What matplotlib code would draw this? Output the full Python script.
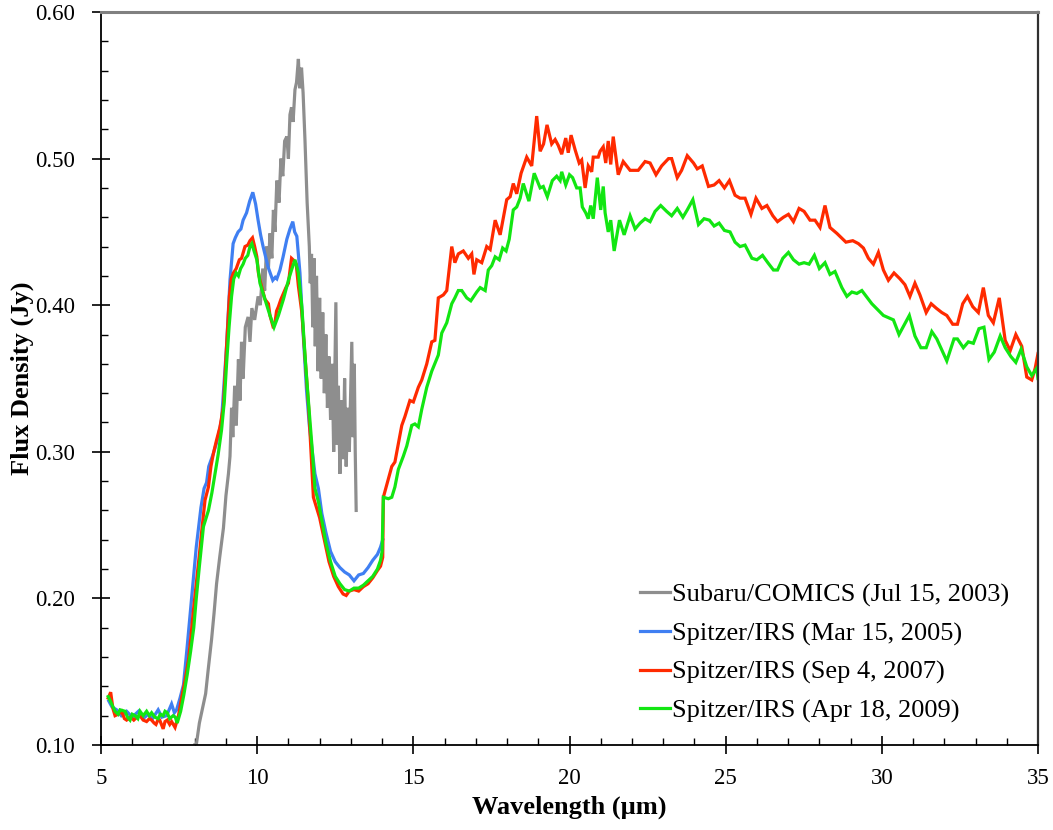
import matplotlib
matplotlib.use('Agg')
import matplotlib.pyplot as plt
from matplotlib.ticker import MultipleLocator, FormatStrFormatter

# --------------------------------------------------------------
# Spectra (wavelength in um, flux in Jy)
# --------------------------------------------------------------
comics_wl = [8.00, 8.05, 8.15, 8.28, 8.35, 8.43, 8.54, 8.62, 8.70, 8.80, 8.92, 9.00, 9.08, 9.13,
             9.18, 9.22, 9.28, 9.33, 9.40, 9.45, 9.50, 9.55, 9.62, 9.71, 9.77, 9.83, 9.92, 10.03,
             10.10, 10.18, 10.24, 10.30, 10.36, 10.41, 10.47, 10.52, 10.57, 10.63, 10.70, 10.76,
             10.82, 10.88, 10.95, 11.00, 11.05, 11.10, 11.15, 11.21, 11.26, 11.32, 11.36, 11.42,
             11.47, 11.53, 11.60, 11.67, 11.70, 11.74, 11.78, 11.82, 11.86, 11.90, 11.95, 12.00,
             12.05, 12.10, 12.15, 12.20, 12.25, 12.30, 12.35, 12.40, 12.45, 12.52, 12.56, 12.60,
             12.65, 12.70, 12.75, 12.80, 12.85, 12.90, 12.95, 13.03, 13.07, 13.11, 13.14, 13.17]
comics_flux = [0.100, 0.100, 0.115, 0.128, 0.135, 0.151, 0.172, 0.190, 0.210, 0.228, 0.248, 0.270,
               0.285, 0.297, 0.330, 0.310, 0.345, 0.318, 0.363, 0.335, 0.375, 0.350, 0.385, 0.392,
               0.375, 0.398, 0.390, 0.406, 0.400, 0.425, 0.410, 0.440, 0.425, 0.449, 0.432, 0.465,
               0.450, 0.485, 0.470, 0.500, 0.488, 0.512, 0.515, 0.500, 0.530, 0.535, 0.525, 0.547,
               0.552, 0.568, 0.548, 0.562, 0.545, 0.513, 0.470, 0.440, 0.415, 0.435, 0.385, 0.432,
               0.372, 0.420, 0.355, 0.405, 0.350, 0.395, 0.340, 0.380, 0.330, 0.365, 0.322, 0.360,
               0.300, 0.402, 0.305, 0.345, 0.285, 0.335, 0.295, 0.350, 0.290, 0.330, 0.300, 0.375,
               0.310, 0.360, 0.300, 0.260]

irs2005_wl = [5.25, 5.35, 5.50, 5.65, 5.82, 6.00, 6.20, 6.35, 6.51, 6.65, 6.83, 6.95, 7.10, 7.26,
              7.35, 7.42, 7.53, 7.64, 7.75, 7.90, 8.05, 8.20, 8.30, 8.38, 8.45, 8.60, 8.75, 8.86,
              8.95, 9.02, 9.13, 9.23, 9.30, 9.39, 9.48, 9.55, 9.66, 9.76, 9.86, 9.95, 10.03, 10.11,
              10.19, 10.27, 10.35, 10.50, 10.58, 10.63, 10.73, 10.83, 10.95, 11.05, 11.14, 11.20,
              11.27, 11.37, 11.48, 11.58, 11.67, 11.75, 11.85, 11.96, 12.07, 12.20, 12.35, 12.50,
              12.65, 12.80, 12.95, 13.10, 13.25, 13.40, 13.55, 13.70, 13.85, 13.95, 14.02]
irs2005_flux = [0.130, 0.126, 0.124, 0.120, 0.123, 0.119, 0.123, 0.118, 0.121, 0.118, 0.124, 0.119,
                0.120, 0.128, 0.122, 0.124, 0.132, 0.141, 0.165, 0.200, 0.235, 0.262, 0.275, 0.279,
                0.290, 0.299, 0.310, 0.322, 0.350, 0.372, 0.417, 0.442, 0.446, 0.450, 0.452, 0.458,
                0.463, 0.471, 0.477, 0.469, 0.458, 0.448, 0.440, 0.433, 0.426, 0.417, 0.419, 0.418,
                0.424, 0.433, 0.445, 0.452, 0.457, 0.450, 0.447, 0.422, 0.378, 0.342, 0.318, 0.303,
                0.285, 0.275, 0.258, 0.245, 0.232, 0.225, 0.221, 0.218, 0.216, 0.212, 0.216, 0.217,
                0.221, 0.226, 0.230, 0.235, 0.240]

irs2007_wl = [5.23, 5.31, 5.38, 5.45, 5.55, 5.66, 5.75, 5.82, 5.95, 6.05, 6.15, 6.25, 6.35, 6.46,
              6.55, 6.62, 6.70, 6.76, 6.82, 6.88, 6.99, 7.05, 7.12, 7.20, 7.26, 7.37, 7.48, 7.58,
              7.69, 7.80, 7.87, 7.95, 8.05, 8.15, 8.22, 8.33, 8.44, 8.52, 8.60, 8.70, 8.81, 8.92,
              9.02, 9.11, 9.17, 9.24, 9.33, 9.43, 9.50, 9.61, 9.70, 9.77, 9.85, 9.92, 9.99, 10.04,
              10.09, 10.20, 10.25, 10.36, 10.41, 10.50, 10.57, 10.62, 10.68, 10.76, 10.84, 10.92,
              11.00, 11.10, 11.20, 11.25, 11.32, 11.43, 11.55, 11.65, 11.80, 11.90, 12.00, 12.15,
              12.30, 12.45, 12.60, 12.75, 12.85, 12.95, 13.10, 13.25, 13.40, 13.55, 13.70, 13.85,
              13.95, 14.02, 14.04, 14.31, 14.41, 14.63, 14.73, 14.89, 15.00, 15.16, 15.27, 15.43,
              15.59, 15.69, 15.80, 15.96, 16.07, 16.23, 16.33, 16.44, 16.60, 16.76, 16.87, 16.94,
              17.03, 17.19, 17.35, 17.46, 17.62, 17.78, 17.99, 18.10, 18.20, 18.31, 18.45, 18.63,
              18.79, 18.95, 19.06, 19.17, 19.28, 19.43, 19.54, 19.64, 19.75, 19.88, 19.96, 20.05,
              20.18, 20.31, 20.39, 20.50, 20.60, 20.71, 20.76, 20.92, 20.98, 21.08, 21.16, 21.24,
              21.32, 21.40, 21.56, 21.72, 21.94, 22.20, 22.42, 22.58, 22.77, 22.95, 23.17, 23.27,
              23.45, 23.59, 23.77, 23.97, 24.09, 24.25, 24.45, 24.63, 24.79, 24.96, 25.12, 25.30,
              25.46, 25.62, 25.81, 25.97, 26.16, 26.32, 26.51, 26.66, 26.85, 27.01, 27.17, 27.35,
              27.51, 27.70, 27.86, 28.02, 28.18, 28.34, 28.56, 28.85, 29.07, 29.25, 29.41, 29.57,
              29.73, 29.89, 30.05, 30.21, 30.39, 30.58, 30.74, 30.90, 31.06, 31.22, 31.42, 31.58,
              31.74, 31.92, 32.08, 32.27, 32.42, 32.59, 32.74, 32.91, 33.09, 33.25, 33.41, 33.57,
              33.76, 33.95, 34.11, 34.29, 34.48, 34.64, 34.80, 34.91, 35.00]
irs2007_flux = [0.132, 0.136, 0.125, 0.120, 0.121, 0.123, 0.118, 0.117, 0.119, 0.117, 0.119, 0.120,
                0.117, 0.116, 0.118, 0.117, 0.115, 0.114, 0.117, 0.117, 0.111, 0.116, 0.117, 0.114,
                0.116, 0.112, 0.120, 0.132, 0.144, 0.158, 0.172, 0.190, 0.210, 0.230, 0.245, 0.267,
                0.276, 0.290, 0.299, 0.308, 0.317, 0.331, 0.372, 0.406, 0.418, 0.422, 0.425, 0.431,
                0.432, 0.440, 0.441, 0.444, 0.446, 0.440, 0.433, 0.422, 0.417, 0.408, 0.404, 0.401,
                0.393, 0.386, 0.388, 0.396, 0.399, 0.404, 0.408, 0.412, 0.415, 0.432, 0.430, 0.428,
                0.413, 0.395, 0.360, 0.330, 0.269, 0.262, 0.255, 0.240, 0.225, 0.215, 0.208, 0.203,
                0.202, 0.205, 0.206, 0.205, 0.208, 0.210, 0.214, 0.219, 0.222, 0.228, 0.269, 0.290,
                0.293, 0.318, 0.324, 0.335, 0.334, 0.344, 0.349, 0.360, 0.375, 0.376, 0.405, 0.407,
                0.410, 0.440, 0.429, 0.435, 0.437, 0.432, 0.435, 0.421, 0.431, 0.429, 0.440, 0.438,
                0.458, 0.448, 0.472, 0.474, 0.483, 0.476, 0.490, 0.501, 0.495, 0.529, 0.505, 0.510,
                0.523, 0.510, 0.513, 0.509, 0.503, 0.514, 0.504, 0.516, 0.506, 0.497, 0.499, 0.480,
                0.495, 0.491, 0.501, 0.501, 0.505, 0.508, 0.497, 0.512, 0.496, 0.515, 0.489, 0.498,
                0.492, 0.492, 0.498, 0.497, 0.489, 0.495, 0.500, 0.500, 0.487, 0.492, 0.502, 0.497,
                0.493, 0.495, 0.481, 0.482, 0.485, 0.480, 0.485, 0.475, 0.473, 0.473, 0.462, 0.473,
                0.466, 0.468, 0.461, 0.457, 0.460, 0.462, 0.457, 0.466, 0.464, 0.458, 0.458, 0.453,
                0.468, 0.453, 0.449, 0.443, 0.444, 0.442, 0.439, 0.432, 0.428, 0.436, 0.424, 0.417,
                0.422, 0.418, 0.414, 0.406, 0.415, 0.407, 0.395, 0.401, 0.398, 0.395, 0.393, 0.387,
                0.387, 0.401, 0.406, 0.399, 0.395, 0.412, 0.393, 0.388, 0.405, 0.376, 0.369, 0.380,
                0.372, 0.351, 0.349, 0.357, 0.367]

irs2009_wl = [5.23, 5.30, 5.34, 5.45, 5.55, 5.61, 5.77, 5.85, 5.93, 6.00, 6.09, 6.18, 6.25, 6.35,
              6.46, 6.55, 6.62, 6.72, 6.83, 6.90, 6.99, 7.05, 7.12, 7.20, 7.31, 7.38, 7.44, 7.55,
              7.65, 7.76, 7.87, 7.97, 8.05, 8.15, 8.28, 8.44, 8.55, 8.65, 8.75, 8.86, 8.95, 9.02,
              9.10, 9.18, 9.25, 9.33, 9.40, 9.47, 9.55, 9.62, 9.70, 9.77, 9.83, 9.90, 9.99, 10.09,
              10.25, 10.41, 10.54, 10.68, 10.84, 11.00, 11.10, 11.21, 11.32, 11.43, 11.55, 11.65,
              11.75, 11.85, 11.96, 12.07, 12.20, 12.35, 12.50, 12.65, 12.80, 12.95, 13.10, 13.25,
              13.40, 13.55, 13.70, 13.85, 13.95, 14.00, 14.04, 14.20, 14.31, 14.41, 14.52, 14.68,
              14.79, 14.95, 15.05, 15.16, 15.27, 15.43, 15.59, 15.80, 15.91, 16.07, 16.23, 16.33,
              16.44, 16.55, 16.71, 16.84, 17.03, 17.14, 17.30, 17.40, 17.51, 17.62, 17.75, 17.86,
              17.97, 18.07, 18.20, 18.31, 18.42, 18.52, 18.70, 18.87, 19.06, 19.16, 19.29, 19.45,
              19.59, 19.70, 19.75, 19.88, 20.00, 20.10, 20.23, 20.34, 20.41, 20.52, 20.60, 20.68,
              20.76, 20.89, 21.00, 21.08, 21.14, 21.24, 21.32, 21.43, 21.60, 21.75, 21.94, 22.10,
              22.26, 22.42, 22.58, 22.74, 22.92, 23.11, 23.27, 23.45, 23.63, 23.77, 23.95, 24.13,
              24.31, 24.48, 24.63, 24.79, 24.96, 25.14, 25.30, 25.46, 25.62, 25.84, 26.00, 26.18,
              26.35, 26.53, 26.66, 26.83, 27.01, 27.17, 27.35, 27.51, 27.67, 27.84, 28.00, 28.18,
              28.34, 28.50, 28.72, 28.88, 29.04, 29.20, 29.36, 29.68, 30.05, 30.37, 30.55, 30.88,
              31.06, 31.25, 31.42, 31.60, 31.76, 32.08, 32.31, 32.42, 32.61, 32.77, 32.93, 33.11,
              33.27, 33.43, 33.60, 33.79, 33.95, 34.13, 34.29, 34.46, 34.64, 34.80, 34.96, 35.00]
irs2009_flux = [0.133, 0.130, 0.128, 0.123, 0.121, 0.124, 0.123, 0.119, 0.117, 0.121, 0.120, 0.118,
                0.123, 0.120, 0.123, 0.120, 0.122, 0.119, 0.118, 0.121, 0.120, 0.123, 0.122, 0.118,
                0.120, 0.119, 0.115, 0.123, 0.134, 0.148, 0.164, 0.180, 0.200, 0.222, 0.249, 0.260,
                0.272, 0.285, 0.298, 0.315, 0.335, 0.360, 0.385, 0.406, 0.418, 0.422, 0.420, 0.425,
                0.428, 0.432, 0.434, 0.440, 0.442, 0.437, 0.431, 0.415, 0.404, 0.393, 0.385, 0.393,
                0.404, 0.417, 0.424, 0.431, 0.422, 0.399, 0.360, 0.332, 0.305, 0.275, 0.266, 0.253,
                0.238, 0.225, 0.215, 0.210, 0.206, 0.205, 0.207, 0.207, 0.209, 0.212, 0.215, 0.220,
                0.226, 0.232, 0.269, 0.268, 0.269, 0.276, 0.288, 0.297, 0.304, 0.318, 0.319, 0.317,
                0.329, 0.344, 0.355, 0.366, 0.381, 0.388, 0.401, 0.405, 0.410, 0.410, 0.405, 0.403,
                0.409, 0.412, 0.410, 0.424, 0.427, 0.433, 0.431, 0.439, 0.437, 0.445, 0.465, 0.467,
                0.473, 0.483, 0.471, 0.490, 0.480, 0.481, 0.474, 0.485, 0.488, 0.485, 0.491, 0.482,
                0.489, 0.487, 0.480, 0.480, 0.467, 0.463, 0.459, 0.468, 0.459, 0.487, 0.465, 0.481,
                0.463, 0.450, 0.458, 0.437, 0.458, 0.448, 0.461, 0.452, 0.456, 0.459, 0.457, 0.464,
                0.468, 0.464, 0.461, 0.466, 0.460, 0.465, 0.472, 0.455, 0.459, 0.458, 0.454, 0.456,
                0.451, 0.450, 0.443, 0.440, 0.441, 0.432, 0.431, 0.434, 0.429, 0.424, 0.424, 0.432,
                0.436, 0.431, 0.428, 0.429, 0.428, 0.434, 0.425, 0.429, 0.421, 0.423, 0.412, 0.406,
                0.409, 0.408, 0.410, 0.401, 0.393, 0.390, 0.380, 0.393, 0.379, 0.371, 0.371, 0.382,
                0.377, 0.362, 0.377, 0.377, 0.371, 0.375, 0.374, 0.384, 0.385, 0.363, 0.368, 0.379,
                0.371, 0.365, 0.361, 0.370, 0.358, 0.352, 0.357, 0.350]

series_labels = ['Subaru/COMICS (Jul 15, 2003)', 'Spitzer/IRS (Mar 15, 2005)',
                 'Spitzer/IRS (Sep 4, 2007)', 'Spitzer/IRS (Apr 18, 2009)']
series_colors = ['#8e8e8e', '#3f7ff2', '#ff2a00', '#12e612']

plt.rcParams['font.family'] = ['Liberation Serif', 'DejaVu Serif']

# --------------------------------------------------------------
# Figure and axes laid out to match the reference pixel box
# --------------------------------------------------------------
fig = plt.figure(figsize=(10.53, 8.30), dpi=100)
ax = fig.add_axes([101 / 1053, 85 / 830, 937 / 1053, 733 / 830])

spectra = [(comics_wl, comics_flux), (irs2005_wl, irs2005_flux),
           (irs2007_wl, irs2007_flux), (irs2009_wl, irs2009_flux)]
for (wl, flux), label, color in zip(spectra, series_labels, series_colors):
    ax.plot(wl, flux, color=color, lw=2.3, label=label, solid_joinstyle='miter')

ax.set_xlim(5, 35)
ax.set_ylim(0.10, 0.60)
ax.xaxis.set_major_locator(MultipleLocator(5))
ax.xaxis.set_minor_locator(MultipleLocator(1))
ax.yaxis.set_major_locator(MultipleLocator(0.1))
ax.yaxis.set_minor_locator(MultipleLocator(0.02))
ax.yaxis.set_major_formatter(FormatStrFormatter('%.2f'))

ax.tick_params(which='major', direction='inout', length=13, width=1.2, labelsize=16.5,
               top=False, right=False)
ax.tick_params(axis='y', which='major', pad=12)
ax.tick_params(axis='x', which='major', pad=10)
ax.tick_params(which='minor', direction='in', length=5, width=1.0, top=False, right=False)

ax.spines['left'].set_linewidth(1.3)
ax.spines['bottom'].set_linewidth(1.3)
ax.spines['top'].set_color('#808080')
ax.spines['top'].set_linewidth(2.2)
ax.spines['right'].set_color('#303030')
ax.spines['right'].set_linewidth(1.6)

ax.set_xlabel('Wavelength (µm)', fontsize=19, fontweight='bold', labelpad=5)
ax.set_ylabel('Flux Density (Jy)', fontsize=19, fontweight='bold', labelpad=1)

ax.legend(loc='center left', bbox_to_anchor=(0.575, 0.1255), frameon=False, fontsize=19,
          handlelength=1.14, handletextpad=0.08, labelspacing=0.56, borderpad=0,
          borderaxespad=0)

fig.savefig('out.png', dpi=100)
